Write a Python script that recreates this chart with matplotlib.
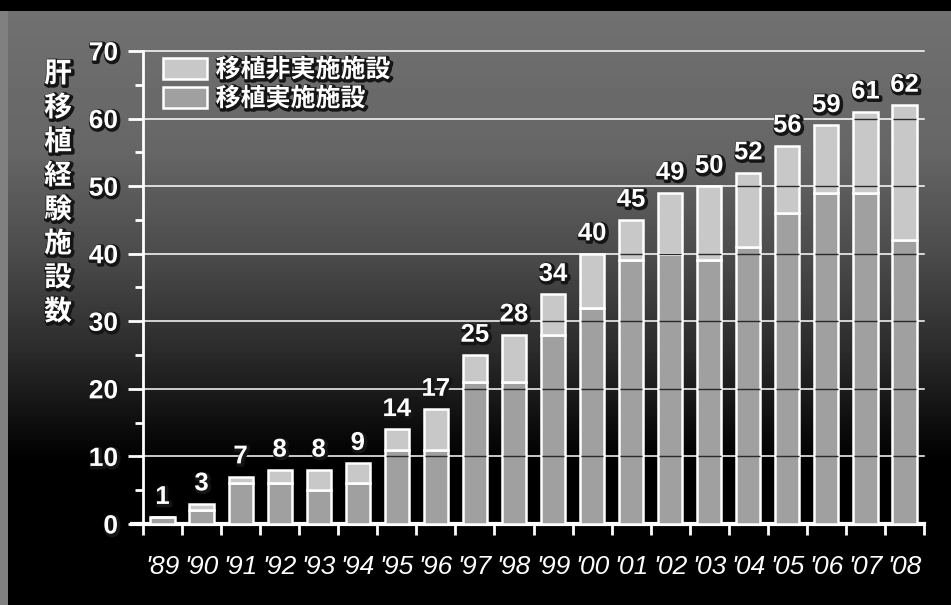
import numpy as np
import matplotlib
matplotlib.use('Agg')
import matplotlib.pyplot as plt
import matplotlib.patheffects as pe
from matplotlib.patches import Patch

plt.rcParams['font.family'] = ['Liberation Sans', 'Noto Sans CJK JP', 'DejaVu Sans']

years = ["'89", "'90", "'91", "'92", "'93", "'94", "'95", "'96", "'97", "'98",
         "'99", "'00", "'01", "'02", "'03", "'04", "'05", "'06", "'07", "'08"]
# facilities that performed liver transplants / experienced but did not
impl = [1, 2, 6, 6, 5, 6, 11, 11, 21, 21, 28, 32, 39, 40, 39, 41, 46, 49, 49, 42]
non_impl = [0, 1, 1, 2, 3, 3, 3, 6, 4, 7, 6, 8, 6, 9, 11, 11, 10, 10, 12, 20]
label_non = '移植非実施施設'
label_impl = '移植実施施設'
ylabel = '肝移植経験施設数'

impl = np.array(impl)
non_impl = np.array(non_impl)
totals = impl + non_impl

W, H = 951, 605
fig = plt.figure(figsize=(W / 100, H / 100), dpi=100)
fig.patch.set_facecolor('black')

# gray-to-black backdrop
bg = fig.add_axes([0, 0, 1, 1], zorder=-10)
rows = np.arange(H)
col = np.interp(rows, [0, 10, 11, 150, 250, 350, 420, 460, H],
                [0, 0, 0.44, 0.40, 0.30, 0.17, 0.06, 0.0, 0.0])
img = np.repeat(col[:, None], W, axis=1)
img[11:, :8] = 0.5
bg.imshow(img, cmap='gray', vmin=0, vmax=1, aspect='auto', extent=[0, 1, 0, 1],
          interpolation='bilinear')
bg.axis('off')

shadow = [pe.Stroke(linewidth=3, foreground='#151515', offset=(1, -1)), pe.Normal()]

ax = fig.add_axes([143 / W, 81 / H, 781 / W, 473 / H])
ax.set_facecolor('none')

x = np.arange(len(years))
bw = 0.62
c_impl = '#a0a0a0'
c_non = '#c8c8c8'

for g in range(10, 80, 10):
    ax.axhline(g, color='white', lw=1.1, zorder=1, clip_on=False)

ax.bar(x, impl, width=bw, color=c_impl, edgecolor='white', linewidth=1.8, zorder=3)
ax.bar(x, non_impl, width=bw, bottom=impl, color=c_non, edgecolor='white',
       linewidth=1.8, zorder=3)

# grid lines show dark where they cross the bars
for i, t in enumerate(totals):
    for g in range(10, 80, 10):
        if g < t - 0.5:
            ax.hlines(g, i - bw / 2 + 0.02, i + bw / 2 - 0.02, color='#2a2a2a',
                      lw=1.0, zorder=4)

for i, t in enumerate(totals):
    ax.annotate(str(t), (i, t), xytext=(0, 6), textcoords='offset points',
                ha='center', va='bottom', fontsize=18.5, fontweight='bold',
                color='white', path_effects=shadow, zorder=5)

ax.set_xlim(-0.5, len(years) - 0.5)
ax.set_ylim(0, 70)

for s in ['top', 'right']:
    ax.spines[s].set_visible(False)
ax.spines['left'].set_color('white')
ax.spines['left'].set_linewidth(2)
ax.spines['bottom'].set_color('white')
ax.spines['bottom'].set_linewidth(3)
ax.plot([-0.017, 0], [0, 0], transform=ax.transAxes, color='white', lw=3,
        clip_on=False, solid_capstyle='butt')

ax.set_yticks(range(0, 80, 10))
ax.set_yticks(range(5, 70, 10), minor=True)
ax.tick_params(axis='y', which='major', direction='out', length=11, width=2,
               color='white', labelcolor='white', labelsize=19, pad=7)
ax.tick_params(axis='y', which='minor', direction='out', length=6, width=2,
               color='white')
for lab in ax.get_yticklabels():
    lab.set_fontweight('bold')
    lab.set_path_effects(shadow)

ax.set_xticks(np.arange(-0.5, len(years), 1))
ax.set_xticklabels([])
ax.set_xticks(x, minor=True)
ax.set_xticklabels(years, minor=True)
ax.tick_params(axis='x', which='major', direction='out', length=8, width=2,
               color='white')
ax.tick_params(axis='x', which='minor', length=0, pad=22, labelcolor='white',
               labelsize=19)
for lab in ax.get_xticklabels(minor=True):
    lab.set_family(['Liberation Sans Narrow', 'Liberation Sans'])
    lab.set_style('italic')

handles = [Patch(facecolor=c_non, edgecolor='white', linewidth=1.8),
           Patch(facecolor=c_impl, edgecolor='white', linewidth=1.8)]
leg = ax.legend(handles, [label_non, label_impl], loc='upper left',
                bbox_to_anchor=(20 / 781, 1 - 7 / 473), frameon=False,
                prop={'family': ['Noto Sans CJK JP'], 'weight': 'bold', 'size': 18},
                handlelength=1.75, handleheight=0.9, handletextpad=0.35,
                labelspacing=0.2, borderaxespad=0, borderpad=0)
for t in leg.get_texts():
    t.set_color('white')
    t.set_path_effects(shadow)

for k, ch in enumerate(ylabel):
    fig.text(58 / W, 1 - (74 + 34 * k) / H, ch, ha='center', va='center',
             fontsize=20, fontweight='bold', color='white',
             family=['Noto Sans CJK JP'], path_effects=shadow)

fig.savefig('out.png', dpi=100, facecolor=fig.get_facecolor())
